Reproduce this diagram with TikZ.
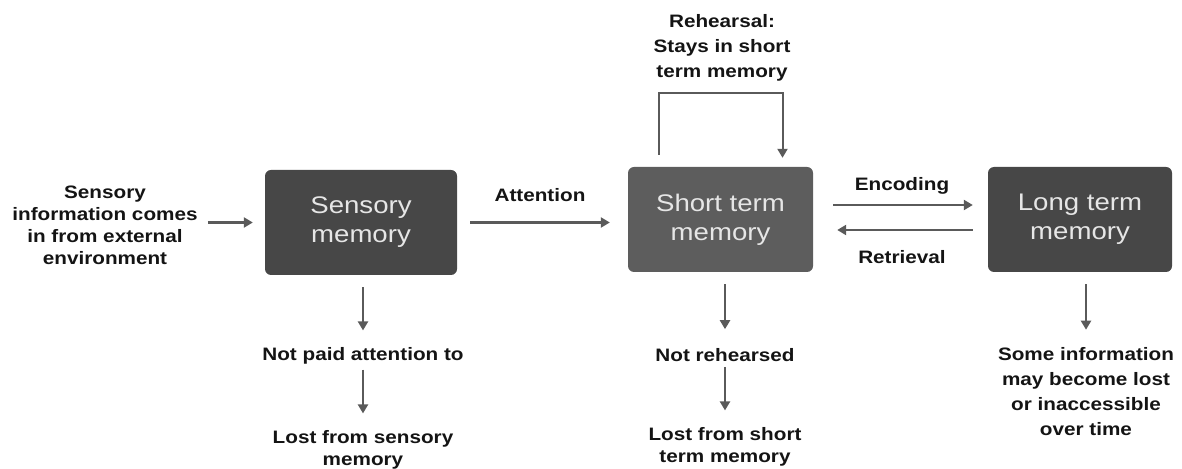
\documentclass[tikz,border=0pt]{standalone}
\usepackage{fontspec}
\setmainfont{Liberation Sans}[FakeStretch=1.15]
\usetikzlibrary{arrows.meta}
\begin{document}
\begin{tikzpicture}[x=1pt,y=1pt,
  box/.style={rounded corners=6pt,minimum width=185pt,minimum height=105pt,text=boxtext,align=center,font=\fontsize{24}{29}\selectfont},
  lbl/.style={align=center,inner sep=0pt,text=ink,font=\bfseries\fontsize{18}{22}\selectfont},
  lblwide/.style={lbl,font=\bfseries\fontsize{18}{25}\selectfont},
  arr/.style={draw=arrowc,line width=2.4pt,-{Triangle[width=10pt,length=9pt]}}]
\definecolor{ink}{HTML}{141414}\definecolor{arrowc}{HTML}{5A5A5A}
\definecolor{boxa}{HTML}{474747}\definecolor{boxb}{HTML}{5D5D5D}
\definecolor{boxtext}{HTML}{E6E6E6}
\useasboundingbox (0,0) rectangle (1182,468);
\node[box,fill=boxa,minimum width=192pt] (sm) at (361,245.5) {Sensory\\memory};
\node[box,fill=boxb] (stm) at (720.5,248.5) {Short term\\memory};
\node[box,fill=boxa,minimum width=184pt] (ltm) at (1080,248.5) {Long term\\memory};
\node[lbl] (src) at (105,243) {Sensory\\information comes\\in from external\\environment};
\node[lbl] (att) at (540,273) {Attention};
\node[lblwide] (reh) at (722,420) {Rehearsal:\\Stays in short\\term memory};
\node[lbl] (enc) at (902,282) {Encoding};
\node[lbl] (ret) at (902,211) {Retrieval};
\node[lbl] (npa) at (363,112) {Not paid attention to};
\node[lbl] (lsm) at (363,18) {Lost from sensory\\memory};
\node[lbl] (nre) at (725,113) {Not rehearsed};
\node[lbl] (lst) at (725,21) {Lost from short\\term memory};
\node[lblwide] (lti) at (1086,76) {Some information\\may become lost\\or inaccessible\\over time};
\draw[arr,shorten <=10pt,shorten >=12pt] (src.east |- sm.west) -- (sm.west);
\draw[arr,shorten <=13pt,shorten >=18pt] (sm.east) -- (sm.east -| stm.west);
\draw[arr,line width=2pt] ([xshift=-61.5pt,yshift=12pt]stm.north) -- ++(0,62) -| ([xshift=62pt,yshift=9pt]stm.north);
\draw[arr,shorten <=20pt,shorten >=15pt] ([yshift=14.5pt]stm.east) -- ([yshift=14.5pt]stm.east -| ltm.west);
\draw[arr,shorten <=15pt,shorten >=24pt] ([yshift=-10.5pt]ltm.west) -- ([yshift=-10.5pt]ltm.west -| stm.east);
\draw[arr,shorten <=12pt,shorten >=17pt] (sm.south -| npa.north) -- (npa.north);
\draw[arr,shorten <=5pt,shorten >=17pt] (npa.south) -- (lsm.north);
\draw[arr,shorten <=12pt,shorten >=19pt] (stm.south -| nre.north) -- (nre.north);
\draw[arr,shorten <=5pt,shorten >=17pt] (nre.south) -- (lst.north);
\draw[arr,shorten <=12pt,shorten >=18pt] (ltm.south -| lti.north) -- (lti.north);
\end{tikzpicture}
\end{document}
